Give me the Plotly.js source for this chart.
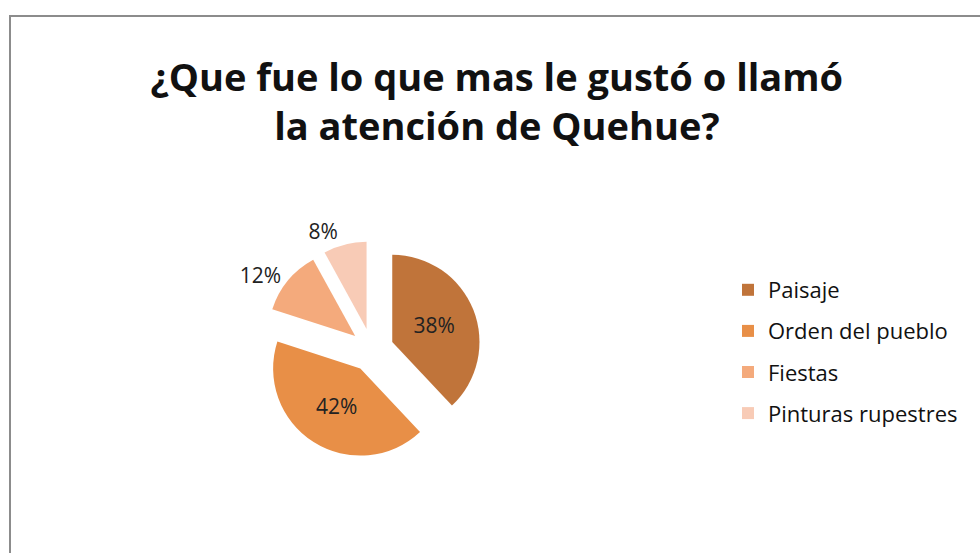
<!DOCTYPE html>
<html><head><meta charset="utf-8">
<script src="https://cdn.plot.ly/plotly-3.0.1.min.js"></script>
<style>html,body{margin:0;padding:0;background:#fff}</style>
</head><body>
<div id="chart" style="width:980px;height:553px"></div>
<script>
const labels = ['Paisaje', 'Orden del pueblo', 'Fiestas', 'Pinturas rupestres'];
const values = [38, 42, 12, 8];
const colors = ['#C0743A', '#E88F47', '#F4AA7C', '#F8CBB6'];
const textPositions = ['inside', 'inside', 'outside', 'outside'];
const titleLine1 = '¿Que fue lo que mas le gustó o llamó';
const titleLine2 = 'la atención de Quehue?';

const FONT = '"Open Sans", Lato, sans-serif';
const W = 980, H = 553;

const pie = {
  type: 'pie',
  labels: labels,
  values: values,
  sort: false,
  direction: 'clockwise',
  rotation: 0,
  pull: values.map(() => 0.25),
  marker: {colors: colors, line: {width: 0}},
  textinfo: 'percent',
  textposition: textPositions,
  insidetextorientation: 'horizontal',
  textfont: {family: FONT, size: 21, color: '#222'},
  showlegend: false,
  hoverinfo: 'label+percent',
  domain: {x: [263 / W, 481 / W], y: [1 - 459 / H, 1 - 241 / H]}
};

const legendTraces = labels.map((l, i) => ({
  type: 'scatter', mode: 'markers', x: [null], y: [null],
  name: l, legendgroup: 'g' + i,
  marker: {symbol: 'square', size: 12, color: colors[i]},
  hoverinfo: 'skip', showlegend: true
}));

const layout = {
  width: W, height: H, autosize: false,
  margin: {l: 0, r: 0, t: 0, b: 0},
  paper_bgcolor: '#ffffff', plot_bgcolor: '#ffffff',
  font: {family: FONT, color: '#111'},
  title: {
    text: titleLine1 + '<br>' + titleLine2,
    font: {family: FONT, size: 38, color: '#111', weight: 'bold'},
    x: 0.507, xanchor: 'center', y: 1 - 91 / H, yanchor: 'middle'
  },
  xaxis: {visible: false}, yaxis: {visible: false},
  showlegend: true,
  legend: {
    x: 728 / W, xanchor: 'left', y: 1 - 269 / H, yanchor: 'top',
    font: {family: FONT, size: 22, color: '#111'},
    traceorder: 'grouped', tracegroupgap: 9.5,
    bgcolor: 'rgba(0,0,0,0)'
  },
  shapes: [{
    type: 'rect', xref: 'paper', yref: 'paper',
    x0: 10 / W, x1: 1.05, y0: 1 - 16 / H, y1: -0.05,
    line: {color: '#8c8c8c', width: 2}, fillcolor: 'rgba(0,0,0,0)'
  }]
};

Plotly.newPlot('chart', [pie].concat(legendTraces), layout, {displayModeBar: false, staticPlot: true});
</script>
</body></html>
